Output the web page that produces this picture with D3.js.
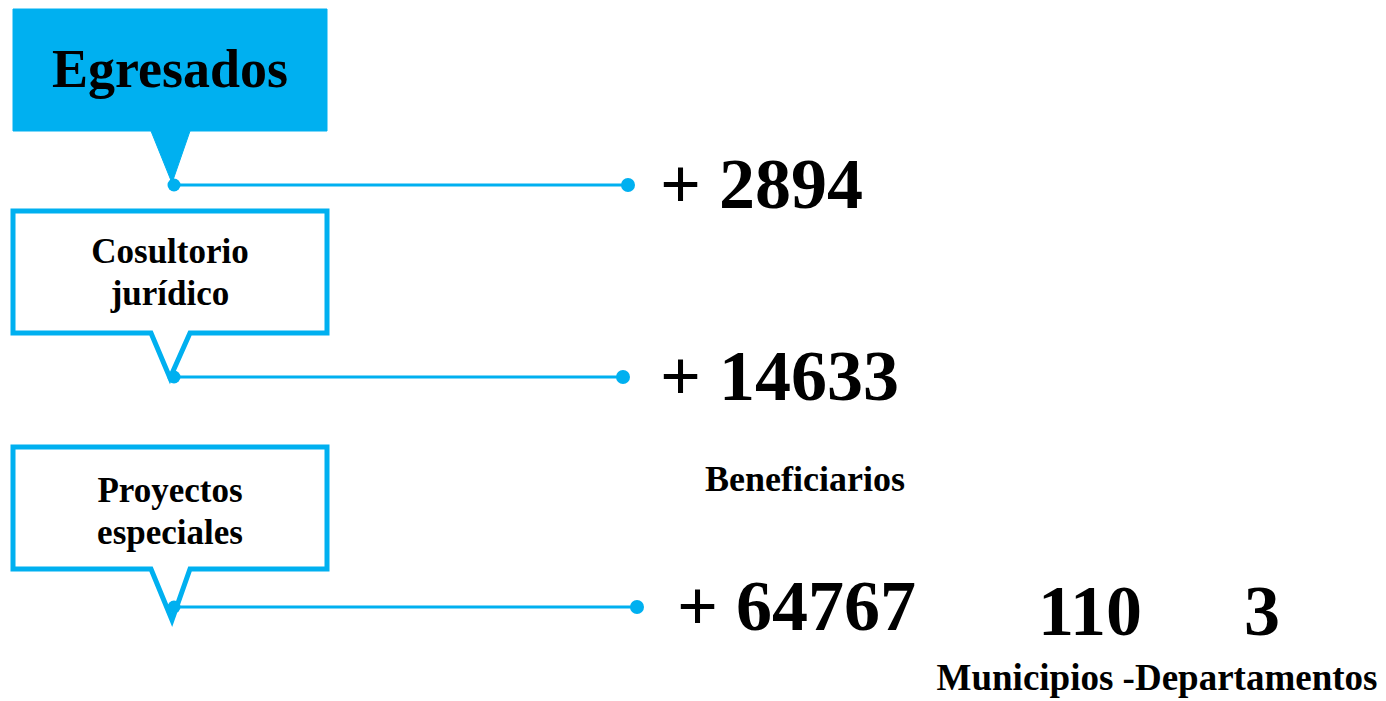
<!DOCTYPE html>
<html>
<head>
<meta charset="utf-8">
<script src="https://cdn.jsdelivr.net/npm/d3@7"></script>
<style>
  body { margin: 0; background: #fff; }
  text { font-family: "Liberation Serif", "DejaVu Serif", serif; font-weight: bold; fill: #000; }
</style>
</head>
<body>
<div id="chart"></div>
<script>
// Categories (callout labels, one line per entry) and their totals.
var categories = ["Egresados", "Cosultorio jurídico", "Proyectos especiales"];
var labelLines = [["Egresados"], ["Cosultorio", "jurídico"], ["Proyectos", "especiales"]];
var values = [2894, 14633, 64767];
var filled = [true, false, false];

// Coverage of the special projects.
var coverageValues = [110, 3];
var coverageLabel = "Municipios -Departamentos";
var valueCaption = "Beneficiarios";

var width = 1386, height = 701;
var blue = "#00B0F0";

var svg = d3.select("#chart").append("svg")
    .attr("width", width)
    .attr("height", height);

// Row positions: top of the callout box and the connector line.
var boxTop = d3.scaleOrdinal().domain(categories).range([9, 211, 447]);
var lineY = d3.scaleOrdinal().domain(categories).range([185, 377, 607]);
var tipY = d3.scaleOrdinal().domain(categories).range([183, 378, 620]);
var tipX = d3.scaleOrdinal().domain(categories).range([172, 170, 172]);
var lineEnd = d3.scaleOrdinal().domain(categories).range([628, 623, 637]);
var numX = d3.scaleOrdinal().domain(categories).range([660, 660, 677]);
var labelShift = d3.scaleOrdinal().domain(categories).range([-2, 0, 3]);
var boxH = 122, boxL = 13, boxR = 327;

var rows = svg.selectAll("g.row")
    .data(categories)
    .enter().append("g")
    .attr("class", "row");

// Callout box with its pointer.
rows.append("path")
    .attr("d", function(d) {
      var t = boxTop(d), b = t + boxH;
      return "M" + boxL + "," + t + "L" + boxR + "," + t + "L" + boxR + "," + b +
        "L190," + b + "L" + tipX(d) + "," + tipY(d) + "L151," + b + "L" + boxL + "," + b + "Z";
    })
    .style("fill", function(d, i) { return filled[i] ? blue : "#fff"; })
    .style("stroke", blue)
    .style("stroke-width", function(d, i) { return filled[i] ? 1 : 5; })
    .style("stroke-linejoin", "miter");

// Label inside box.
rows.each(function(d, i) {
  var g = d3.select(this);
  var lines = labelLines[i];
  var fs = i == 0 ? 54 : 35;
  var cy = boxTop(d) + boxH / 2 + labelShift(d);
  var lh = 42;
  lines.forEach(function(l, j) {
    g.append("text")
      .attr("x", 170)
      .attr("y", cy + (j - (lines.length - 1) / 2) * lh)
      .attr("dy", "0.35em")
      .attr("text-anchor", "middle")
      .style("font-size", fs + "px")
      .text(l);
  });
});

// Connector lines and end dots.
rows.append("line")
    .attr("x1", 175)
    .attr("x2", function(d) { return lineEnd(d); })
    .attr("y1", function(d) { return lineY(d); })
    .attr("y2", function(d) { return lineY(d); })
    .style("stroke", blue)
    .style("stroke-width", 3);

rows.append("circle")
    .attr("cx", 174)
    .attr("cy", function(d) { return lineY(d); })
    .attr("r", 6.5)
    .style("fill", blue);

rows.append("circle")
    .attr("cx", function(d) { return lineEnd(d); })
    .attr("cy", function(d) { return lineY(d); })
    .attr("r", 7)
    .style("fill", blue);

// Values.
rows.append("text")
    .attr("x", function(d) { return numX(d); })
    .attr("y", function(d) { return lineY(d) + 23; })
    .style("font-size", "72px")
    .text(function(d, i) { return "+ " + values[i]; });

svg.append("text")
    .attr("x", 805)
    .attr("y", 491)
    .attr("text-anchor", "middle")
    .style("font-size", "36px")
    .text(valueCaption);

// Coverage numbers.
var covX = d3.scaleOrdinal().domain(coverageValues).range([1090, 1262]);
svg.selectAll("text.cov")
    .data(coverageValues)
    .enter().append("text")
    .attr("class", "cov")
    .attr("x", function(d) { return covX(d); })
    .attr("y", 635)
    .attr("text-anchor", "middle")
    .style("font-size", "72px")
    .text(function(d) { return d; });

svg.append("text")
    .attr("x", 1157)
    .attr("y", 690)
    .attr("text-anchor", "middle")
    .style("font-size", "37px")
    .text(coverageLabel);
</script>
</body>
</html>
